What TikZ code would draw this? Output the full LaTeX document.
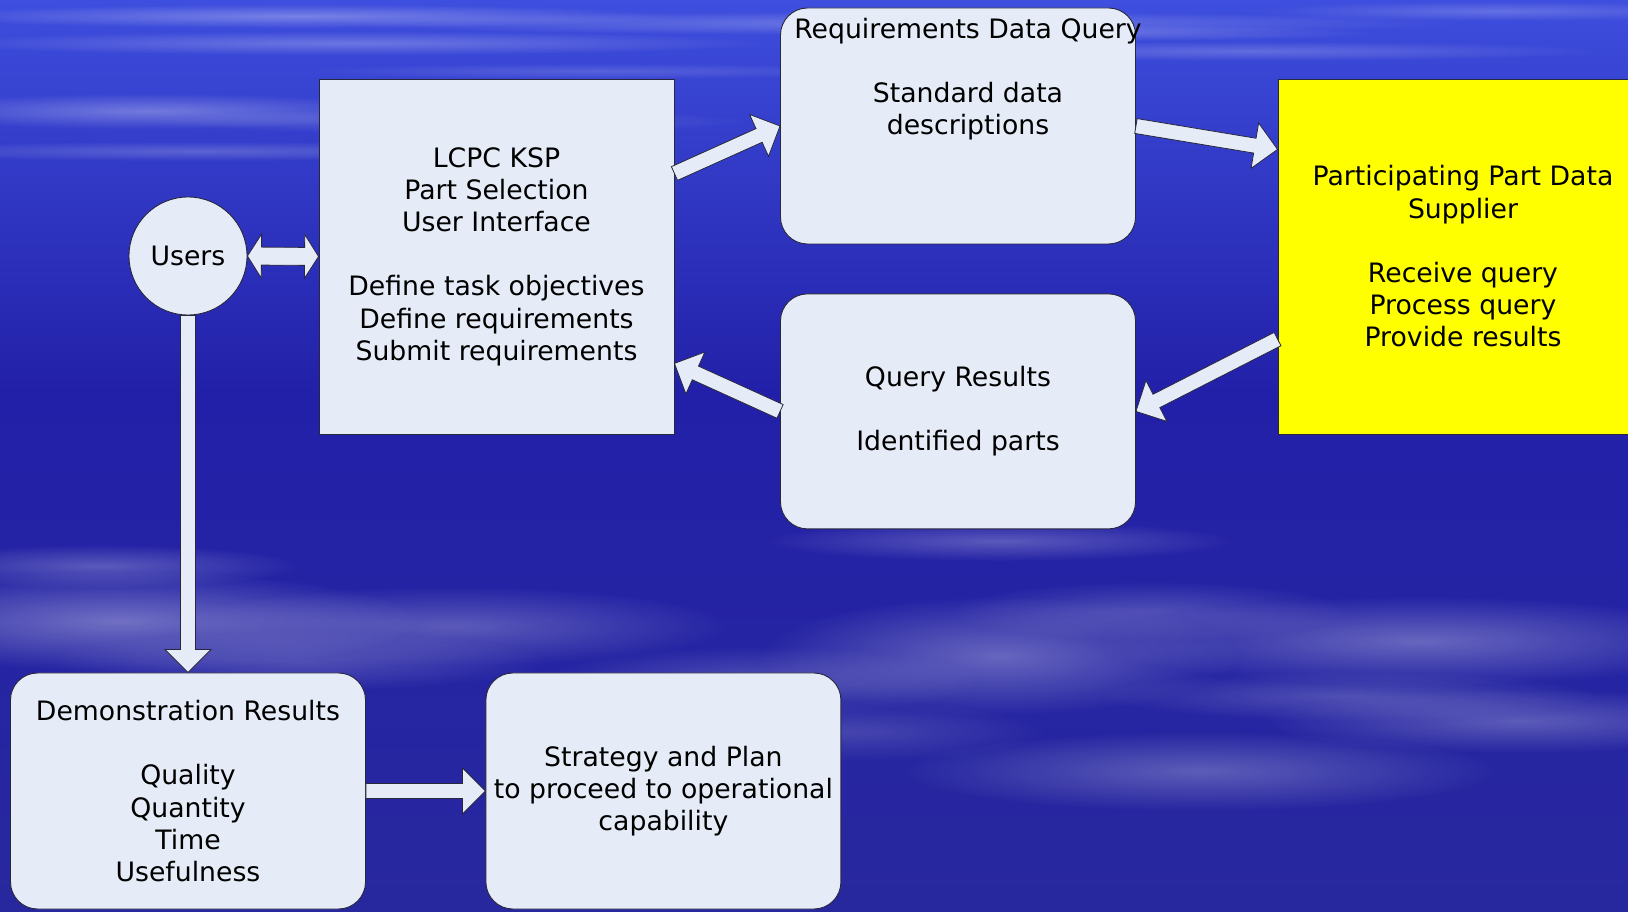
\documentclass[tikz,border=0pt]{standalone}
\usepackage{fontspec}
\setmainfont{DejaVu Sans}
\usetikzlibrary{calc,positioning,fadings}

\definecolor{skytop}{RGB}{62,78,222}
\definecolor{skymid}{RGB}{34,32,168}
\definecolor{skylow}{RGB}{40,40,158}
\definecolor{boxfill}{RGB}{230,236,247}
\definecolor{rim}{RGB}{40,40,60}
\definecolor{sun}{RGB}{255,255,0}
\tikzfading[name=cloudfade, inner color=transparent!0, outer color=transparent!100]

\tikzset{
  box/.style={draw=rim, fill=boxfill, line width=0.9pt, align=center, minimum width=355pt, minimum height=236pt, inner sep=0pt},
  roundbox/.style={box, rounded corners=27pt},
  haze/.style={white, opacity=#1, path fading=cloudfade},
  blockarrow/.style={draw=rim, fill=boxfill, line width=0.8pt,
    to path={let \p1=(\tikztostart), \p2=(\tikztotarget),
      \n1={atan2(\y2-\y1,\x2-\x1)}, \n2={veclen(\x2-\x1,\y2-\y1)} in
      -- ($(\p1)+(\n1+90:7.5pt)$)
      -- ($(\p1)+(\n1:\n2-23pt)+(\n1+90:7.5pt)$)
      -- ($(\p1)+(\n1:\n2-23pt)+(\n1+90:23pt)$)
      -- (\p2)
      -- ($(\p1)+(\n1:\n2-23pt)+(\n1-90:23pt)$)
      -- ($(\p1)+(\n1:\n2-23pt)+(\n1-90:7.5pt)$)
      -- ($(\p1)+(\n1-90:7.5pt)$)
      -- cycle}},
  dblarrow/.style={draw=rim, fill=boxfill, line width=0.8pt,
    to path={let \p1=(\tikztostart), \p2=(\tikztotarget),
      \n1={atan2(\y2-\y1,\x2-\x1)}, \n2={veclen(\x2-\x1,\y2-\y1)} in
      -- ($(\p1)+(\n1:14pt)+(\n1+90:22pt)$)
      -- ($(\p1)+(\n1:14pt)+(\n1+90:9pt)$)
      -- ($(\p1)+(\n1:\n2-14pt)+(\n1+90:9pt)$)
      -- ($(\p1)+(\n1:\n2-14pt)+(\n1+90:22pt)$)
      -- (\p2)
      -- ($(\p1)+(\n1:\n2-14pt)+(\n1-90:22pt)$)
      -- ($(\p1)+(\n1:\n2-14pt)+(\n1-90:9pt)$)
      -- ($(\p1)+(\n1:14pt)+(\n1-90:9pt)$)
      -- ($(\p1)+(\n1:14pt)+(\n1-90:22pt)$)
      -- cycle}},
}

\begin{document}
\begin{tikzpicture}[x=1pt, y=1pt, font=\fontsize{26.7}{32.2}\selectfont]
\useasboundingbox (0,0) rectangle (1628,911);
\begin{scope}
\clip (0,0) rectangle (1628,911);
\shade[top color=skytop, bottom color=skymid] (0,520) rectangle (1628,911);
\shade[top color=skymid, bottom color=skylow] (0,0) rectangle (1628,521);
\foreach \cx/\cy/\rx/\ry/\op in {300/895/380/12/0.3, 900/888/560/12/0.25, 350/868/420/12/0.25,
    1250/860/360/10/0.2, 150/800/260/18/0.3, 450/790/300/12/0.2, 200/760/340/10/0.2,
    1100/878/280/8/0.2, 1500/900/250/10/0.2, 600/840/300/8/0.15,
    120/290/300/50/0.35, 450/285/280/40/0.25, 100/345/200/22/0.25, 300/250/250/30/0.2,
    1000/255/240/60/0.3, 1150/300/200/30/0.2, 1420/270/320/45/0.3, 1200/140/300/40/0.25,
    1000/370/240/20/0.25, 1520/190/260/32/0.25, 760/230/220/35/0.2, 850/180/200/30/0.15,
    1350/215/250/25/0.2}
  \fill[haze=\op] (\cx,\cy) ellipse [x radius=\rx, y radius=\ry];
\end{scope}

\node[circle, draw=rim, fill=boxfill, line width=0.9pt, minimum size=118pt, inner sep=0pt] (users) at (188,655) {Users};
\node[box, minimum height=355pt] (lcpc) at (496.5,654.5) {LCPC KSP\\Part Selection\\User Interface\\[32.2pt]Define task objectives\\Define requirements\\Submit requirements};
\node[roundbox] (rdq) at (958,785) {};
\node[below=10pt of rdq.north, xshift=10pt, align=center, inner sep=0pt] (rdqtext) {Requirements Data Query\\[32.2pt]Standard data\\descriptions};
\node[roundbox, minimum height=235pt, below=49pt of rdq] (qr) {Query Results\\[32.2pt]Identified parts};
\node[box, fill=sun, minimum width=370pt, minimum height=355pt] (yel) at (1463,654.5) {Participating Part Data\\Supplier\\[32.2pt]Receive query\\Process query\\Provide results};
\node[roundbox] (demo) at (188,120) {Demonstration Results\\[32.2pt]Quality\\Quantity\\Time\\Usefulness};
\node[roundbox, right=119.5pt of demo] (strat) {Strategy and Plan\\to proceed to operational\\capability};

\draw[blockarrow] (lcpc.25) to (rdq.west);
\draw[blockarrow] (rdq.east) to (yel.150);
\draw[blockarrow] (yel.204) to (qr.east);
\draw[blockarrow] (qr.west) to (lcpc.-31);
\draw[dblarrow] (users.east) to (lcpc.west);
\draw[blockarrow] (users.south) to (demo.north);
\draw[blockarrow] (demo.east) to (strat.west);
\end{tikzpicture}
\end{document}
